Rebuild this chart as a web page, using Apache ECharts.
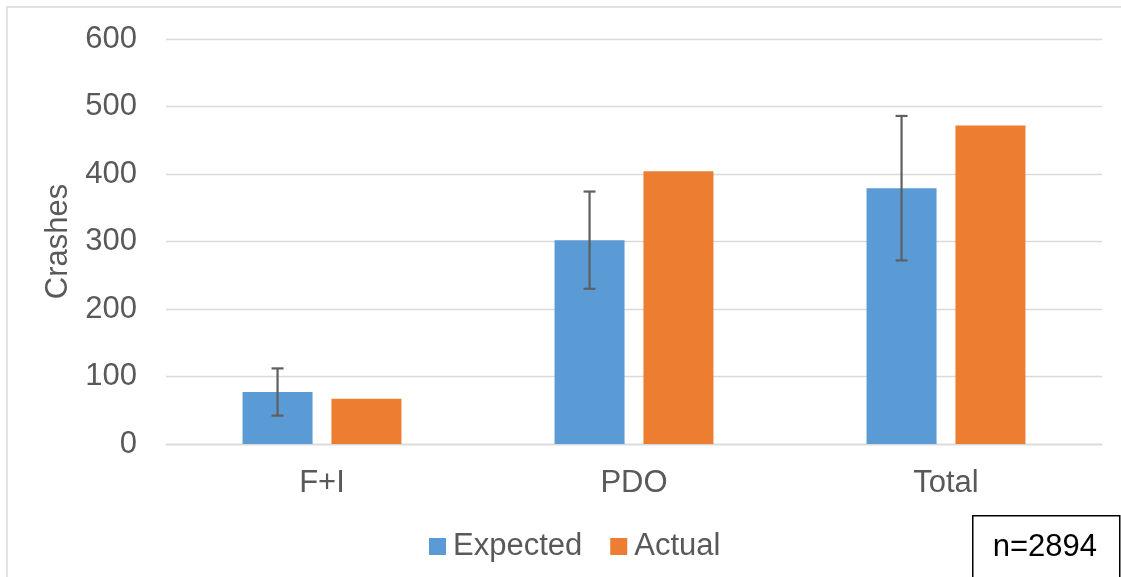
<!DOCTYPE html>
<html>
<head>
<meta charset="utf-8">
<script src="https://cdn.jsdelivr.net/npm/echarts@6/dist/echarts.min.js"></script>
<style>
  html, body { margin: 0; padding: 0; background: #fff; }
  #chart { width: 1121px; height: 577px; }
</style>
</head>
<body>
<div id="chart"></div>
<script>
// Crash counts by severity: expected (with error range) vs. actual
const categories = ['F+I', 'PDO', 'Total'];
const expected = [77, 302, 379];
const expectedError = [35, 72, 107];
const actual = [67, 404, 472];
const yTicks = { min: 0, max: 600, interval: 100 };
const sampleLabel = 'n=2894';

const FONT = '"Liberation Sans", Arial, sans-serif';
const FS = 31;
const TEXT = '#595959';
const BAR_W = 70;
const BAR_GAP = 0.27;

const chart = echarts.init(document.getElementById('chart'), null, { renderer: 'canvas' });

const errorData = categories.map((c, i) => [i, expected[i] - expectedError[i], expected[i] + expectedError[i]]);

chart.setOption({
  animation: false,
  textStyle: { fontFamily: FONT },
  grid: { left: 166, right: 19, top: 39, bottom: 133 },
  legend: {
    left: 424,
    top: 526,
    itemWidth: 17,
    itemHeight: 17,
    itemGap: 28,
    icon: 'rect',
    textStyle: { fontSize: FS, color: TEXT, fontFamily: FONT, padding: [0, 0, 0, 2] },
    data: ['Expected', 'Actual']
  },
  xAxis: {
    type: 'category',
    data: categories,
    axisTick: { show: false },
    axisLine: { show: true, lineStyle: { color: '#d9d9d9', width: 1.3 } },
    axisLabel: { fontSize: FS, color: TEXT, margin: 24, fontFamily: FONT }
  },
  yAxis: {
    type: 'value',
    min: yTicks.min,
    max: yTicks.max,
    interval: yTicks.interval,
    name: 'Crashes',
    nameLocation: 'middle',
    nameGap: 89,
    nameTextStyle: { fontSize: FS, color: TEXT, fontFamily: FONT },
    axisLine: { show: false },
    axisTick: { show: false },
    axisLabel: { fontSize: FS, color: TEXT, margin: 29, fontFamily: FONT },
    splitLine: { lineStyle: { color: '#d9d9d9', width: 1.3 } }
  },
  series: [
    {
      name: 'Expected',
      type: 'bar',
      data: expected,
      barWidth: BAR_W,
      barGap: (BAR_GAP * 100) + '%',
      itemStyle: { color: '#5B9BD5' }
    },
    {
      name: 'Actual',
      type: 'bar',
      data: actual,
      barWidth: BAR_W,
      itemStyle: { color: '#ED7D31' }
    },
    {
      type: 'custom',
      name: 'error',
      data: errorData,
      z: 10,
      renderItem: function (params, api) {
        const idx = api.value(0);
        const lo = api.coord([idx, api.value(1)]);
        const hi = api.coord([idx, api.value(2)]);
        const x = lo[0] - BAR_W * (1 + BAR_GAP) / 2;
        const capHalf = 6;
        const style = { stroke: '#5f5f5f', lineWidth: 2.2 };
        return {
          type: 'group',
          children: [
            { type: 'line', shape: { x1: x, y1: hi[1], x2: x, y2: lo[1] }, style: style },
            { type: 'line', shape: { x1: x - capHalf, y1: hi[1], x2: x + capHalf, y2: hi[1] }, style: style },
            { type: 'line', shape: { x1: x - capHalf, y1: lo[1], x2: x + capHalf, y2: lo[1] }, style: style }
          ]
        };
      }
    }
  ],
  graphic: [
    {
      type: 'rect',
      silent: true,
      shape: { x: 7, y: 7, width: 1300, height: 800 },
      style: { fill: null, stroke: '#d9d9d9', lineWidth: 1.5 },
      z: -10
    },
    {
      type: 'group',
      left: 972,
      top: 515,
      children: [
        {
          type: 'rect',
          shape: { x: 0, y: 0, width: 147, height: 80 },
          style: { fill: '#fff', stroke: '#000', lineWidth: 1.5 }
        },
        {
          type: 'text',
          x: 20,
          y: 32,
          style: { text: sampleLabel, fill: '#000', font: FS + 'px ' + FONT, textVerticalAlign: 'middle' }
        }
      ]
    }
  ]
});
</script>
</body>
</html>
